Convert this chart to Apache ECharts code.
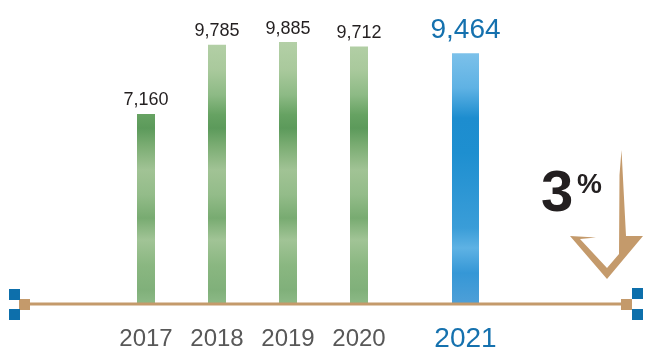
<!DOCTYPE html>
<html>
<head>
<meta charset="utf-8">
<script src="https://cdn.jsdelivr.net/npm/echarts@6/dist/echarts.min.js"></script>
<style>
  html, body { margin: 0; padding: 0; background: #ffffff; }
  #chart { width: 646px; height: 347px; }
</style>
</head>
<body>
<div id="chart"></div>
<script>
// Yearly totals
const years = ['2017', '2018', '2019', '2020', '2021'];
const totals = [7160, 9785, 9885, 9712, 9464];
const highlightYear = '2021';
const changeValue = '3';
const changeUnit = '%';
// Axis slots: spacer entries give the highlighted year extra room
const axisSlots = ['2017', 'gap1', '2018', 'gap2', '2019', 'gap3', '2020', 'gap4', 'gap5', '2021'];

const TAN = '#c49a6b';
const MARK_BLUE = '#0d6fab';
const TEXT_BLUE = '#1571ae';
const FONT = 'Liberation Sans, Arial, sans-serif';

const chart = echarts.init(document.getElementById('chart'), null, { renderer: 'canvas' });

// Watercolour-like fills, anchored in pixel space so every bar shares one wash
const greenWash = new echarts.graphic.LinearGradient(0, 40, 0, 303, [
  { offset: 0.000, color: '#b4d0a7' },
  { offset: 0.114, color: '#a9c99c' },
  { offset: 0.209, color: '#8dba85' },
  { offset: 0.285, color: '#66a262' },
  { offset: 0.335, color: '#5c9a5b' },
  { offset: 0.400, color: '#7aac72' },
  { offset: 0.494, color: '#a1c395' },
  { offset: 0.589, color: '#93bc89' },
  { offset: 0.677, color: '#78ab71' },
  { offset: 0.760, color: '#a1c496' },
  { offset: 0.856, color: '#8ab781' },
  { offset: 0.950, color: '#80b07a' },
  { offset: 1.000, color: '#8cb986' }
], true);

const blueWash = new echarts.graphic.LinearGradient(0, 53, 0, 303, [
  { offset: 0.00, color: '#7cc1ea' },
  { offset: 0.14, color: '#5fb2e4' },
  { offset: 0.26, color: '#1d8dcf' },
  { offset: 0.40, color: '#1e8fd0' },
  { offset: 0.55, color: '#2c96d4' },
  { offset: 0.70, color: '#3a9dd8' },
  { offset: 0.78, color: '#5eb2e4' },
  { offset: 0.88, color: '#3597d6' },
  { offset: 1.00, color: '#4d9fd8' }
], true);

const fmt = v => String(v).replace(/\B(?=(\d{3})+(?!\d))/g, ',');

const valueFor = slot => {
  const i = years.indexOf(slot);
  return i < 0 ? null : totals[i];
};

const greenData = axisSlots.map(s => (s === highlightYear ? null : valueFor(s)));
const blueData = axisSlots.map(s => (s === highlightYear ? valueFor(s) : null));

chart.setOption({
  animation: false,
  backgroundColor: '#ffffff',
  grid: { left: 128.25, width: 355, top: 39, bottom: 44, containLabel: false, outerBoundsMode: 'none' },
  xAxis: [
    {
      type: 'category',
      data: axisSlots,
      boundaryGap: true,
      axisLine: { show: false },
      axisTick: { show: false },
      splitLine: { show: false },
      axisLabel: {
        interval: 0,
        margin: 21,
        formatter: v => {
          if (years.indexOf(v) < 0) return '';
          return v === highlightYear ? '{hi|' + v + '}' : '{yr|' + v + '}';
        },
        rich: {
          yr: { fontSize: 24, lineHeight: 30, color: '#585858', fontFamily: FONT },
          hi: { fontSize: 28, lineHeight: 30, color: TEXT_BLUE, fontFamily: FONT }
        }
      }
    },
    { type: 'category', data: axisSlots, show: false }
  ],
  yAxis: { type: 'value', min: 0, max: 10000, show: false },
  series: [
    {
      type: 'bar',
      xAxisIndex: 0,
      data: greenData,
      barWidth: 18,
      itemStyle: { color: greenWash },
      label: {
        show: true, position: 'top', distance: 4.5,
        fontSize: 18, color: '#231f20', fontFamily: FONT,
        formatter: p => fmt(p.value)
      }
    },
    {
      type: 'bar',
      xAxisIndex: 1,
      data: blueData,
      barWidth: 27,
      itemStyle: { color: blueWash },
      label: {
        show: true, position: 'top', distance: 9,
        fontSize: 28, color: TEXT_BLUE, fontFamily: FONT,
        formatter: p => fmt(p.value)
      }
    }
  ],
  graphic: [
    // baseline with end caps
    { type: 'rect', z: 10, shape: { x: 28, y: 302.5, width: 596, height: 3 }, style: { fill: TAN } },
    { type: 'rect', z: 11, shape: { x: 19, y: 299, width: 11, height: 11 }, style: { fill: TAN } },
    { type: 'rect', z: 11, shape: { x: 621, y: 299, width: 11, height: 11 }, style: { fill: TAN } },
    { type: 'rect', z: 11, shape: { x: 9, y: 289, width: 11, height: 11 }, style: { fill: MARK_BLUE } },
    { type: 'rect', z: 11, shape: { x: 9, y: 309, width: 11, height: 11 }, style: { fill: MARK_BLUE } },
    { type: 'rect', z: 11, shape: { x: 632, y: 288, width: 11, height: 11 }, style: { fill: MARK_BLUE } },
    { type: 'rect', z: 11, shape: { x: 632, y: 309, width: 11, height: 11 }, style: { fill: MARK_BLUE } },
    // downward arrow
    {
      type: 'polygon', z: 10,
      shape: {
        points: [
          [621.5, 150], [626, 236], [643, 236], [607, 279], [570, 236],
          [596, 237.5], [580, 239], [607, 268], [619, 254], [619.5, 175]
        ]
      },
      style: { fill: TAN }
    },
    // change figure
    {
      type: 'text', z: 10, x: 541, y: 195,
      style: { text: changeValue, fontSize: 58, fontWeight: 'bold', fill: '#231f20', fontFamily: FONT, align: 'left', verticalAlign: 'middle' }
    },
    {
      type: 'text', z: 10, x: 577, y: 185,
      style: { text: changeUnit, fontSize: 28, fontWeight: 'bold', fill: '#231f20', fontFamily: FONT, align: 'left', verticalAlign: 'middle' }
    }
  ]
});
</script>
</body>
</html>
